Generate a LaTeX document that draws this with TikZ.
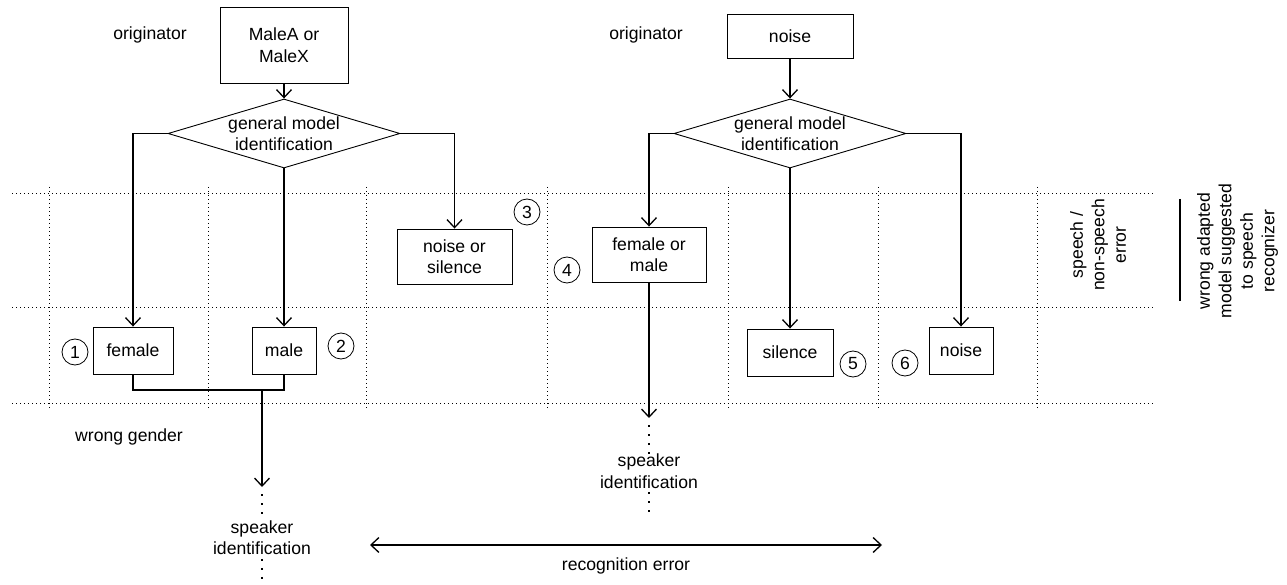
\documentclass[tikz,border=0pt]{standalone}
\usepackage{fontspec}
\setmainfont{Liberation Sans}
\usetikzlibrary{arrows.meta,shapes.geometric}
\begin{document}
\begin{tikzpicture}[x=1pt,y=-1pt,
  every node/.style={font=\fontsize{17.6}{21.5}\selectfont},
  box/.style={draw,line width=0.9pt,inner sep=0pt,align=center},
  dia/.style={draw,diamond,line width=0.9pt,inner sep=0pt,minimum width=232pt,minimum height=69pt,aspect=3.36},
  num/.style={draw,circle,line width=0.8pt,inner sep=0pt,minimum size=26pt},
  conn/.style={line width=1.3pt},
  arr/.style={line width=1.3pt,-{Straight Barb[length=8pt,width=15pt,line width=1.3pt]}},
  biarr/.style={line width=1.3pt,{Straight Barb[length=8pt,width=15pt,line width=1.3pt]}-{Straight Barb[length=8pt,width=15pt,line width=1.3pt]}},
  grid/.style={line width=0.8pt,dash pattern=on 1pt off 3pt},
  dots/.style={line width=2pt,dash pattern=on 2pt off 7pt},
  plain/.style={align=center,inner sep=0pt}]
\useasboundingbox (0,0) rectangle (1287,585);

% dotted grid
\foreach \yy in {193,307.5,403} \draw[grid] (12,\yy) -- (1155,\yy);
\foreach \xx in {49,208,366,547,728,878,1037} \draw[grid] (\xx,187) -- (\xx,410);

% left process
\node[plain] (orig1) at (150,35) {originator};
\node[box,minimum width=128pt,minimum height=76pt] (src1) at (284,45) {MaleA or\\MaleX};
\node[dia,label={[align=center,inner sep=0pt]center:general model\\identification}] (d1) at (284,133.5) {};
\node[box,minimum width=80pt,minimum height=47pt] (fem) at (133,350.5) {female};
\node[box,minimum width=64pt,minimum height=47pt] (male) at (284,350.5) {male};
\node[box,minimum width=115pt,minimum height=55pt] (nos) at (454.5,256.5) {noise or\\silence};
\node[num] (c1) at (75,352) {1};
\node[num] (c2) at (341,346) {2};
\node[num] (c3) at (527,212) {3};

\draw[arr] (src1.south) -- (d1.north);
\draw[arr] (d1.west) -| (fem.north);
\draw[arr] (d1.south) -- (male.north);
\draw[arr] (d1.east) -| (nos.north);
\coordinate (jl) at (262,390);
\coordinate (tipL) at (262,487);
\draw[conn] (fem.south) |- (jl) -| (male.south);
\draw[arr] (jl) -- (tipL);
\node[plain] (wg) at (129,437) {wrong gender};
\node[plain] (spk1) at (262,537.5) {speaker\\identification};
\coordinate (dl1) at (262,494);
\coordinate (dl2) at (262,563);
\draw[dots] (dl1) -- (spk1.north);
\draw[dots] (spk1.south) ++(0,4) -- (262,585);

% right process
\node[plain] (orig2) at (646,35) {originator};
\node[box,minimum width=126pt,minimum height=44pt] (src2) at (790,36) {noise};
\node[dia,label={[align=center,inner sep=0pt]center:general model\\identification}] (d2) at (790,133.5) {};
\node[box,minimum width=114pt,minimum height=55pt] (fom) at (649,254.5) {female or\\male};
\node[box,minimum width=86pt,minimum height=47pt] (sil) at (790,352.5) {silence};
\node[box,minimum width=64pt,minimum height=47pt] (noi) at (961,350.5) {noise};
\node[num] (c4) at (567,270) {4};
\node[num] (c5) at (853,364) {5};
\node[num] (c6) at (905,363) {6};

\draw[arr] (src2.south) -- (d2.north);
\draw[arr] (d2.west) -| (fom.north);
\draw[arr] (d2.south) -- (sil.north);
\draw[arr] (d2.east) -| (noi.north);
\coordinate (tipR) at (649,418);
\draw[arr] (fom.south) -- (tipR);
\node[plain] (spk2) at (649,471) {speaker\\identification};
\coordinate (dr1) at (649,425);
\coordinate (dr2) at (649,519);
\draw[dots] (dr1) -- (spk2.north);
\draw[dots] (spk2.south) ++(0,4) -- (dr2);

% recognition error
\coordinate (re1) at (370,545);
\coordinate (re2) at (882,545);
\draw[biarr] (re1) -- (re2);
\node[plain] (rec) at (626,566) {recognition error};

% right side labels
\node[plain,rotate=90] (sns) at (1098,245) {speech /\\non-speech\\error};
\coordinate (vl1) at (1180,199);
\coordinate (vl2) at (1180,301);
\draw[line width=1.4pt] (vl1) -- (vl2);
\node[plain,rotate=90] (wam) at (1237.5,251) {wrong adapted\\model suggested\\to speech\\recognizer};
\end{tikzpicture}
\end{document}
